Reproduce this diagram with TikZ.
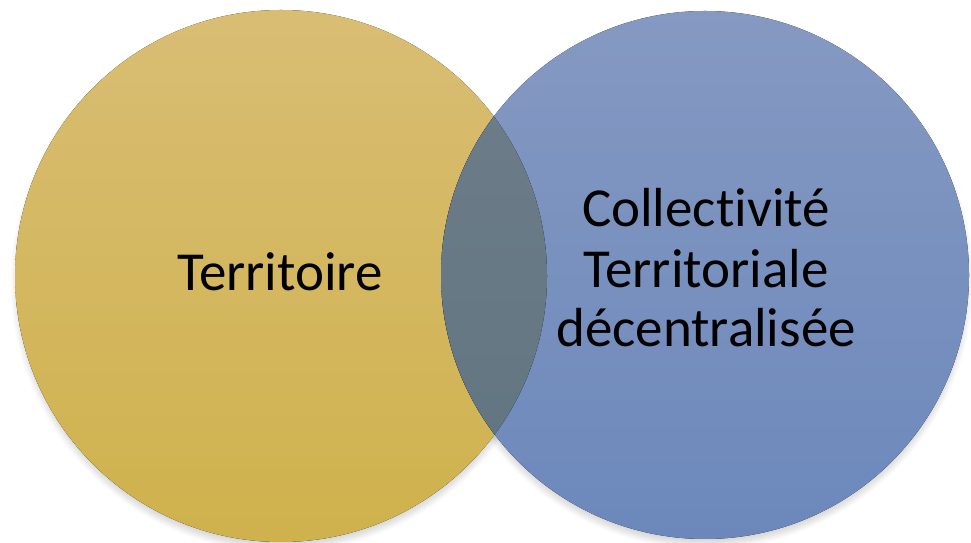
\documentclass[tikz,border=0pt]{standalone}
\usepackage{fontspec}
\setmainfont{Carlito}[RawFeature={-liga;-dlig;-calt}]
\usetikzlibrary{shadows.blur}
\definecolor{ytop}{HTML}{D9BD74}
\definecolor{ybot}{HTML}{CFB24C}
\definecolor{btop}{HTML}{8599C2}
\definecolor{bbot}{HTML}{6C88BB}
\definecolor{otop}{HTML}{6F7E8A}
\definecolor{obot}{HTML}{5F7480}
\tikzset{
  lbl/.style={font=\fontsize{55}{60}\selectfont, text=black, inner sep=0pt, anchor=base},
  circshadow/.style={blur shadow={shadow xshift=0pt, shadow yshift=-6pt, shadow blur steps=10, shadow blur radius=6pt, shadow opacity=18}}
}
\begin{document}
\begin{tikzpicture}[x=1pt,y=1pt]
\useasboundingbox (0,0) rectangle (971,543);
\coordinate (yc) at (281,267);
\coordinate (bc) at (705,268);
\path[circshadow] (yc) circle[radius=265];
\path[circshadow] (bc) circle[radius=263];
\fill[top color=ytop, bottom color=ybot] (yc) circle[radius=266];
\fill[top color=btop, bottom color=bbot] (bc) circle[radius=264];
\begin{scope}
  \clip (yc) circle[radius=266];
  \fill[top color=otop, bottom color=obot] (bc) circle[radius=264];
\end{scope}
\node[lbl] (terr) at (280,252) {Territoire};
\node[lbl] (coll) at (706,316) {Collectivité};
\node[lbl] (terl) at (706,255) {Territoriale};
\node[lbl] (dece) at (706,196) {décentralisée};
\end{tikzpicture}
\end{document}
